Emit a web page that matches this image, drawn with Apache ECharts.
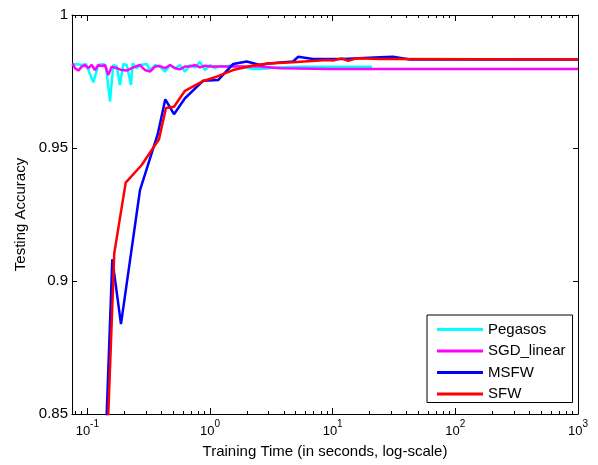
<!DOCTYPE html>
<html>
<head>
<meta charset="utf-8">
<script src="https://cdn.jsdelivr.net/npm/echarts@6/dist/echarts.min.js"></script>
<style>
  html, body { margin: 0; padding: 0; background: #fff; }
  #chart { width: 598px; height: 465px; }
</style>
</head>
<body>
<div id="chart"></div>
<script>
const seriesNames = ['Pegasos', 'SGD_linear', 'MSFW', 'SFW']
const seriesColors = ['#00ffff', '#ff00ff', '#0000ff', '#ff0000']

const pegasosTime = [0.0757, 0.0819, 0.0900, 0.0975, 0.1119, 0.1229, 0.1350, 0.1420, 0.1530, 0.1628, 0.1735, 0.1846, 0.1964, 0.2094, 0.2270, 0.2344, 0.2527, 0.2688, 0.3048, 0.3243, 0.3561, 0.3913, 0.4297, 0.4720, 0.5185, 0.5692, 0.6253, 0.6871, 0.7546, 0.8289, 0.9103, 1.0, 1.0985, 1.2064, 1.3253, 1.4555, 1.757, 2.242, 2.556, 3.517, 5.417, 9.51, 13.85, 20.92]
const pegasosAcc = [0.9812, 0.9816, 0.9812, 0.9816, 0.9747, 0.9812, 0.9816, 0.9806, 0.9674, 0.9812, 0.9808, 0.9737, 0.9816, 0.9812, 0.9737, 0.9818, 0.9800, 0.9812, 0.9816, 0.9793, 0.9812, 0.9806, 0.9787, 0.9812, 0.9800, 0.9812, 0.9787, 0.9812, 0.9803, 0.9824, 0.9793, 0.9812, 0.9800, 0.9808, 0.9806, 0.9810, 0.9806, 0.9797, 0.9797, 0.9803, 0.9805, 0.9805, 0.9805, 0.9805]

const sgdTime = [0.0757, 0.0793, 0.0844, 0.0900, 0.0957, 0.1018, 0.1085, 0.1155, 0.1229, 0.1309, 0.1393, 0.1482, 0.1580, 0.1735, 0.1906, 0.2094, 0.2300, 0.2527, 0.2688, 0.2953, 0.3243, 0.3561, 0.3913, 0.4297, 0.4720, 0.5185, 0.5692, 0.6253, 0.6871, 0.7546, 0.8289, 0.9103, 1.0, 1.4555, 2.556, 3.721, 9.51, 1000]
const sgdAcc = [0.9818, 0.9800, 0.9791, 0.9806, 0.9812, 0.9800, 0.9812, 0.9793, 0.9812, 0.9808, 0.9812, 0.9774, 0.9806, 0.9800, 0.9793, 0.9791, 0.9800, 0.9808, 0.9812, 0.9793, 0.9787, 0.9806, 0.9808, 0.9800, 0.9812, 0.9800, 0.9796, 0.9806, 0.9806, 0.9812, 0.9803, 0.9809, 0.9806, 0.9806, 0.9806, 0.9800, 0.9797, 0.9797]

const msfwTime = [0.1388, 0.1598, 0.1881, 0.2688, 0.3748, 0.4321, 0.5087, 0.6253, 0.8818, 1.169, 1.549, 1.991, 2.556, 2.988, 4.750, 5.246, 6.915, 12.14, 24.31, 31.03, 42.7, 1000]
const msfwAcc = [0.83, 0.9082, 0.8838, 0.9342, 0.9552, 0.9683, 0.9627, 0.9687, 0.9753, 0.9756, 0.9816, 0.9825, 0.9812, 0.9818, 0.9825, 0.9843, 0.9835, 0.9835, 0.9841, 0.9843, 0.9833, 0.9833]

const sfwTime = [0.1428, 0.1659, 0.2055, 0.2774, 0.3838, 0.4377, 0.5087, 0.6253, 0.8818, 1.134, 1.540, 2.242, 2.971, 4.750, 8.993, 10.06, 11.85, 13.34, 15.70, 24.31, 31.03, 1000]
const sfwAcc = [0.83, 0.9105, 0.937, 0.9436, 0.9533, 0.965, 0.9655, 0.9715, 0.9752, 0.9768, 0.9793, 0.981, 0.9818, 0.9822, 0.9831, 0.9829, 0.9837, 0.9828, 0.9837, 0.9835, 0.9835, 0.9833]

const majorTicks = [0.1, 1, 10, 100, 1000]
const minorTicks = [0.08, 0.09, 0.2, 0.3, 0.4, 0.5, 0.6, 0.7, 0.8, 0.9, 2, 3, 4, 5, 6, 7, 8, 9, 20, 30, 40, 50, 60, 70, 80, 90, 200, 300, 400, 500, 600, 700, 800, 900]

const xMin = 0.075
const xMax = 1000

const font = 'Liberation Sans, Arial, Helvetica, sans-serif'
const black = '#000'

const zip = (xs, ys) => xs.map((x, i) => [x, ys[i]])
const allData = [
  zip(pegasosTime, pegasosAcc),
  zip(sgdTime, sgdAcc),
  zip(msfwTime, msfwAcc),
  zip(sfwTime, sfwAcc),
]

const logAxis = (position, tickValues, tickLen, withLine) => ({
  type: 'log',
  min: xMin,
  max: xMax,
  position,
  axisLine: { show: withLine, lineStyle: { color: black, width: 1 } },
  axisTick: { show: true, inside: true, length: tickLen, customValues: tickValues, lineStyle: { color: black, width: 1 } },
  axisLabel: { show: false },
  splitLine: { show: false },
  minorTick: { show: false },
})

const bottomAxis = logAxis('bottom', majorTicks, 6, true)
bottomAxis.axisLabel = {
  show: true,
  customValues: majorTicks,
  margin: 5,
  color: black,
  fontFamily: font,
  formatter: (v) => '{b|10}{e|' + Math.round(Math.log10(v)) + '}',
  rich: {
    b: { fontSize: 13, fontFamily: font, color: black, verticalAlign: 'bottom' },
    e: { fontSize: 10, fontFamily: font, color: black, verticalAlign: 'top', padding: [0, 0, 9, 0] },
  },
}
bottomAxis.name = 'Training Time (in seconds, log-scale)'
bottomAxis.nameLocation = 'middle'
bottomAxis.nameGap = 30
bottomAxis.nameTextStyle = { fontSize: 15, fontFamily: font, color: black }

const chart = echarts.init(document.getElementById('chart'))
chart.setOption({
  animation: false,
  backgroundColor: '#fff',
  grid: { left: 72, right: 20, top: 15, bottom: 51 },
  legend: {
    orient: 'vertical',
    left: 427,
    top: 315,
    padding: [7, 7, 1, 10],
    itemGap: 6.5,
    itemWidth: 46,
    itemHeight: 3,
    icon: 'rect',
    backgroundColor: '#fff',
    borderColor: black,
    borderWidth: 1,
    textStyle: { fontSize: 15, fontFamily: font, color: black },
    data: seriesNames,
  },
  xAxis: [
    bottomAxis,
    logAxis('top', majorTicks, 6, true),
    logAxis('bottom', minorTicks, 3, false),
    logAxis('top', minorTicks, 3, false),
  ],
  yAxis: [
    {
      type: 'value',
      min: 0.85,
      max: 1,
      interval: 0.05,
      position: 'left',
      axisLine: { show: true, lineStyle: { color: black, width: 1 } },
      axisTick: { show: true, inside: true, length: 5, lineStyle: { color: black } },
      axisLabel: { color: black, fontSize: 15, fontFamily: font, margin: 4 },
      splitLine: { show: false },
      name: 'Testing Accuracy',
      nameLocation: 'middle',
      nameGap: 36,
      nameTextStyle: { fontSize: 15, fontFamily: font, color: black },
    },
    {
      type: 'value',
      min: 0.85,
      max: 1,
      interval: 0.05,
      position: 'right',
      axisLine: { show: true, lineStyle: { color: black, width: 1 } },
      axisTick: { show: true, inside: true, length: 5, lineStyle: { color: black } },
      axisLabel: { show: false },
      splitLine: { show: false },
    },
  ],
  series: seriesNames.map((name, i) => ({
    name,
    type: 'line',
    xAxisIndex: 0,
    yAxisIndex: 0,
    data: allData[i],
    symbol: 'none',
    clip: true,
    color: seriesColors[i],
    lineStyle: { color: seriesColors[i], width: 2.5 },
  })),
})
</script>
</body>
</html>
